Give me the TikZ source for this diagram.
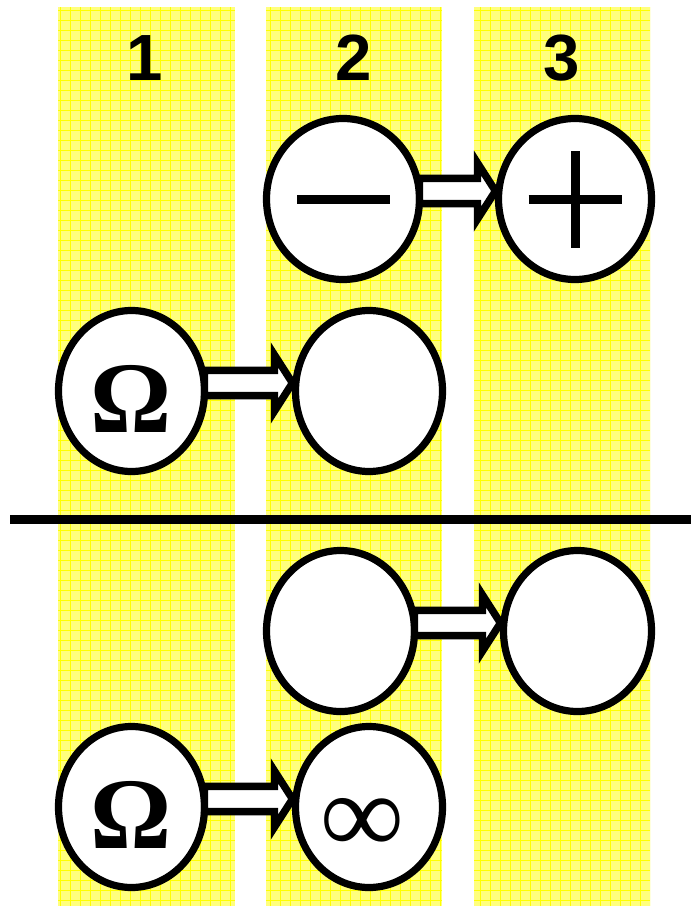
\documentclass[tikz,border=0pt]{standalone}
\usepackage{fontspec}
\setmainfont{Liberation Serif}
\newfontfamily\labelfont{Liberation Sans}
\usetikzlibrary{shapes.geometric,calc}
\definecolor{colfill}{RGB}{255,255,125}
\definecolor{colgrid}{RGB}{255,255,0}
\tikzset{
  column/.style={fill=colfill},
  gridline/.style={draw=colgrid, line width=0.45pt, step=7.5pt},
  state/.style={ellipse, draw=black, fill=white, line width=5.4pt,
    inner sep=0pt, outer sep=0pt, minimum height=120.75pt},
  colhead/.style={font=\labelfont\bfseries\fontsize{49}{49}\selectfont,
    anchor=base, inner sep=0pt},
  sym/.style={font=\bfseries\fontsize{76}{76}\selectfont},
  bigsym/.style={font=\bfseries\fontsize{86}{86}\selectfont},
  blockarrow/.style={draw=black, fill=white, line width=5.6pt, line join=miter},
  divider/.style={line width=6.4pt},
  signbar/.style={line width=6.75pt}
}
% hollow block arrow from the right side of #1 to the left side of #2
\newcommand\blockarrow[2]{%
  \draw[blockarrow] let \p1=(#1.east), \p2=(#2.west) in
    (\x1,\y1+15.4pt) -- (\x2-15.75pt,\y1+15.4pt) -- (\x2-15.75pt,\y1+27pt)
    -- (\x2-2.25pt,\y1+6pt) -- (\x2-15.75pt,\y1-15pt) -- (\x2-15.75pt,\y1-3.4pt)
    -- (\x1,\y1-3.4pt) -- cycle;}
\begin{document}
\begin{tikzpicture}[x=0.75pt,y=-0.75pt]
\useasboundingbox (0,0) rectangle (691,906);

% shaded columns with a fine grid
\foreach \l/\r in {58/235,266/442,474/650}{
  \fill[column] (\l,7) rectangle (\r,906);
  \begin{scope}
    \clip (\l,7) rectangle (\r,906);
    \draw[gridline] (\l,7) grid (\r,906);
  \end{scope}
}

% column numbers
\node[colhead] (h1) at (145,80) {1};
\node[colhead] (h2) at (354,80) {2};
\node[colhead] (h3) at (562,80) {3};

% separating rule
\coordinate (ruleL) at (10,519.5);
\coordinate (ruleR) at (691,519.5);
\draw[divider] (ruleL) -- (ruleR);

% upper half
\node[state, minimum width=114.75pt] (m1) at (343,199) {};
\node[state, minimum width=114.75pt] (p1) at (575,199) {};
\node[state, minimum width=109.5pt, sym] (o1) at (131.5,391)
  {\smash{\raisebox{-30.75pt}{Ω}}};
\node[state, minimum width=110.25pt] (e1) at (369,391) {};

\draw[signbar] ($(m1.center)+(-46,0.5)$) -- ($(m1.center)+(47,0.5)$);
\draw[signbar] ($(p1.center)+(-46.5,0.5)$) -- ($(p1.center)+(46.5,0.5)$);
\draw[signbar] ($(p1.center)+(0,-48)$) -- ($(p1.center)+(0,49)$);

\blockarrow{m1}{p1}
\blockarrow{o1}{e1}

% lower half
\node[state, minimum width=111pt] (e2) at (340.5,631) {};
\node[state, minimum width=111pt] (e3) at (577.5,631) {};
\node[state, minimum width=109.5pt, sym] (o2) at (131.5,807)
  {\smash{\raisebox{-30.75pt}{Ω}}};
\node[state, minimum width=110.25pt, bigsym] (i2) at (369,807)
  {\smash{\makebox[0pt]{\raisebox{-35pt}{∞}\hspace{10.5pt}}}};

\blockarrow{e2}{e3}
\blockarrow{o2}{i2}
\end{tikzpicture}
\end{document}
